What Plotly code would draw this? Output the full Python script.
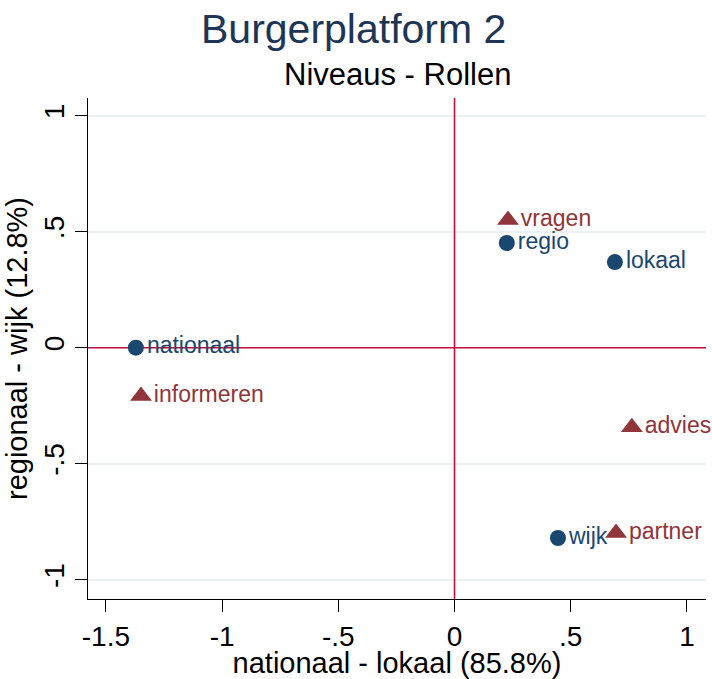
import plotly.graph_objects as go

# Data
niveau_labels = ["nationaal", "regio", "lokaal", "wijk"]
niveau_x = [-1.371, 0.225, 0.690, 0.445]
niveau_y = [0.0, 0.451, 0.369, -0.820]

rol_labels = ["informeren", "vragen", "advies", "partner"]
rol_x = [-1.349, 0.230, 0.763, 0.695]
rol_y = [-0.208, 0.550, -0.343, -0.799]

x_ticks = [-1.5, -1, -0.5, 0, 0.5, 1]
x_tick_labels = ["-1.5", "-1", "-.5", "0", ".5", "1"]
y_ticks = [-1, -0.5, 0, 0.5, 1]
y_tick_labels = ["-1", "-.5", "0", ".5", "1"]

NAVY = "#1a476f"
MAROON = "#90353b"
RED = "#c8103e"
FONT = "Liberation Sans, Arial, sans-serif"

x_range = [-1.577, 1.082]
y_range = [-1.083, 1.076]

fig = go.Figure()
# reference lines at 0
fig.add_trace(go.Scatter(x=[0, 0], y=y_range, mode="lines",
                         line=dict(color=RED, width=1.6), showlegend=False,
                         hoverinfo="skip"))
fig.add_trace(go.Scatter(x=x_range, y=[0, 0], mode="lines",
                         line=dict(color=RED, width=1.6), showlegend=False,
                         hoverinfo="skip"))
fig.add_trace(go.Scatter(
    x=niveau_x, y=niveau_y, mode="markers+text", text=niveau_labels,
    textposition="middle right",
    marker=dict(symbol="circle", size=16, color=NAVY),
    textfont=dict(color=NAVY, size=23, family=FONT),
    showlegend=False, cliponaxis=False))
fig.add_trace(go.Scatter(
    x=rol_x, y=rol_y, mode="markers+text", text=rol_labels,
    textposition="middle right",
    marker=dict(symbol="triangle-up", size=19, color=MAROON),
    textfont=dict(color=MAROON, size=23, family=FONT),
    showlegend=False, cliponaxis=False))

fig.update_layout(
    width=712, height=679,
    margin=dict(l=88, r=6, t=98, b=80),
    paper_bgcolor="white", plot_bgcolor="white",
    font=dict(family=FONT, color="black"),
    annotations=[
        dict(text="Burgerplatform 2", x=(353 - 88) / 618, xref="paper", xanchor="center",
             y=1 + (98 - 29) / 501, yref="paper", yanchor="middle", showarrow=False,
             font=dict(size=41, color="#1f3555", family=FONT)),
        dict(text="Niveaus - Rollen", x=0.5, xref="paper", xanchor="center",
             y=1 + (98 - 75) / 501, yref="paper", yanchor="middle", showarrow=False,
             font=dict(size=31, color="black", family=FONT)),
    ],
    xaxis=dict(range=x_range, tickvals=x_ticks, ticktext=x_tick_labels,
               showgrid=False, zeroline=False, showline=True, linecolor="black",
               linewidth=1.3, ticks="outside", ticklen=12, tickcolor="black",
               tickwidth=1.3, automargin=False,
               tickfont=dict(size=28, family=FONT),
               title=dict(text="nationaal - lokaal (85.8%)", standoff=4,
                          font=dict(size=29, family=FONT))),
    yaxis=dict(range=y_range, tickvals=y_ticks, ticktext=y_tick_labels,
               showgrid=True, gridcolor="#eaf2f3", gridwidth=2,
               zeroline=False, showline=True, linecolor="black",
               linewidth=1.3, ticks="outside", ticklen=12, tickcolor="black",
               tickwidth=1.3, automargin=False,
               tickangle=-90, tickfont=dict(size=28, family=FONT),
               title=dict(text="regionaal - wijk (12.8%)", standoff=2,
                          font=dict(size=29, family=FONT))),
)

fig.write_html("out.html", config={"displayModeBar": False},
               post_script="document.body.style.margin='0';document.body.style.overflow='hidden';")
